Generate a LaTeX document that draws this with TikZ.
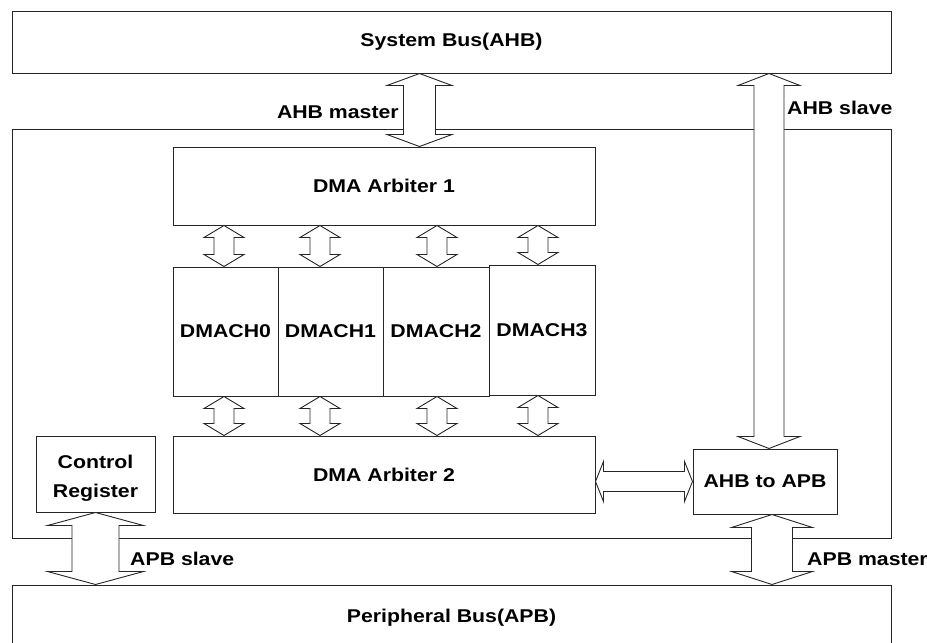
\documentclass[tikz,border=0pt]{standalone}
\usepackage{fontspec}
\setmainfont{Liberation Sans}[FakeStretch=1.15]
\usetikzlibrary{calc}
\newcommand\VArrow[5]{%
  \draw[arr] let \p1=#1, \p2=#2 in
    (\x1-#3,\y1-#5) -- (\x1-#4,\y1-#5) -- (\x1,\y1) -- (\x1+#4,\y1-#5) -- (\x1+#3,\y1-#5)
    -- (\x1+#3,\y2+#5) -- (\x1+#4,\y2+#5) -- (\x1,\y2) -- (\x1-#4,\y2+#5) -- (\x1-#3,\y2+#5) -- cycle;}
\newcommand\HArrow[5]{%
  \draw[arr] let \p1=#1, \p2=#2 in
    (\x1,\y1) -- (\x1+#5,\y1+#4) -- (\x1+#5,\y1+#3) -- (\x2-#5,\y1+#3) -- (\x2-#5,\y1+#4)
    -- (\x2,\y1) -- (\x2-#5,\y1-#4) -- (\x2-#5,\y1-#3) -- (\x1+#5,\y1-#3) -- (\x1+#5,\y1-#4) -- cycle;}
\begin{document}
\begin{tikzpicture}[x=1pt,y=-1pt,
  txt/.style={font=\fontsize{18.5}{29}\selectfont\bfseries},
  box/.style={draw=black!85, line width=1pt, fill=white, inner sep=0pt, txt, align=center},
  arr/.style={draw=black!85, line width=0.9pt, fill=white, line join=miter},
  lbl/.style={inner sep=0pt, txt}]
\clip (0,0) rectangle (927,643);
\fill[white] (0,0) rectangle (927,643);
% buses and outer block
\node[box, minimum width=879pt, minimum height=62pt] (sysbus) at (451.5,42) {System Bus(AHB)};
\node[box, minimum width=879pt, minimum height=409pt] (outer) at (451.5,333.5) {};
\node[box, minimum width=879pt, minimum height=66pt] (perbus) at (451.5,618) {Peripheral Bus(APB)};
% inner blocks
\node[box, minimum width=422pt, minimum height=78pt] (arb1) at (384,186) {DMA Arbiter 1};
\node[box, minimum width=105pt, minimum height=129pt] (ch0) at (225.5,331.5) {DMACH0};
\node[box, minimum width=105pt, minimum height=129pt] (ch1) at (330.5,331.5) {DMACH1};
\node[box, minimum width=106pt, minimum height=129pt] (ch2) at (436,331.5) {DMACH2};
\node[box, minimum width=106pt, minimum height=130pt] (ch3) at (542,330) {DMACH3};
\node[box, minimum width=422pt, minimum height=77pt] (arb2) at (384,474.5) {DMA Arbiter 2};
\node[box, minimum width=119pt, minimum height=76pt,
      label={[txt, align=center, inner sep=0pt, yshift=-4pt]center:Control\\Register}] (cr) at (95.5,474) {};
\node[box, minimum width=144pt, minimum height=65pt] (a2p) at (765,481.5) {AHB to APB};
% x positions of the arrows
\coordinate (xam) at (419.5,0);
\coordinate (xas) at (769,0);
\coordinate (xpm) at (772,0);
\coordinate (xc0) at (224,0);
\coordinate (xc1) at (320,0);
\coordinate (xc2) at (437,0);
\coordinate (xc3) at (538,0);
% arrows
\VArrow{(sysbus.south -| xam)}{(arb1.north)}{16pt}{32.5pt}{12pt}
\VArrow{(sysbus.south -| xas)}{(a2p.north)}{15pt}{31pt}{12pt}
\foreach \i in {0,1,2,3}{
  \VArrow{(arb1.south -| xc\i)}{(ch\i.north)}{10pt}{20pt}{12pt}
  \VArrow{(ch\i.south -| xc\i)}{(arb2.north)}{10pt}{20pt}{12pt}
}
\VArrow{(cr.south)}{(perbus.north)}{23.5pt}{48pt}{13pt}
\VArrow{(a2p.south -| xpm)}{(perbus.north)}{20.5pt}{40.5pt}{13pt}
\HArrow{(arb2.east |- a2p.center)}{(a2p.west)}{10pt}{20pt}{8pt}
% labels
\node[lbl, anchor=east] (lam) at (399,112) {AHB master};
\node[lbl, anchor=west] (las) at (787,108) {AHB slave};
\node[lbl, anchor=west] (lps) at (130,559) {APB slave};
\node[lbl, anchor=west] (lpm) at (807,559) {APB master};
\end{tikzpicture}
\end{document}
